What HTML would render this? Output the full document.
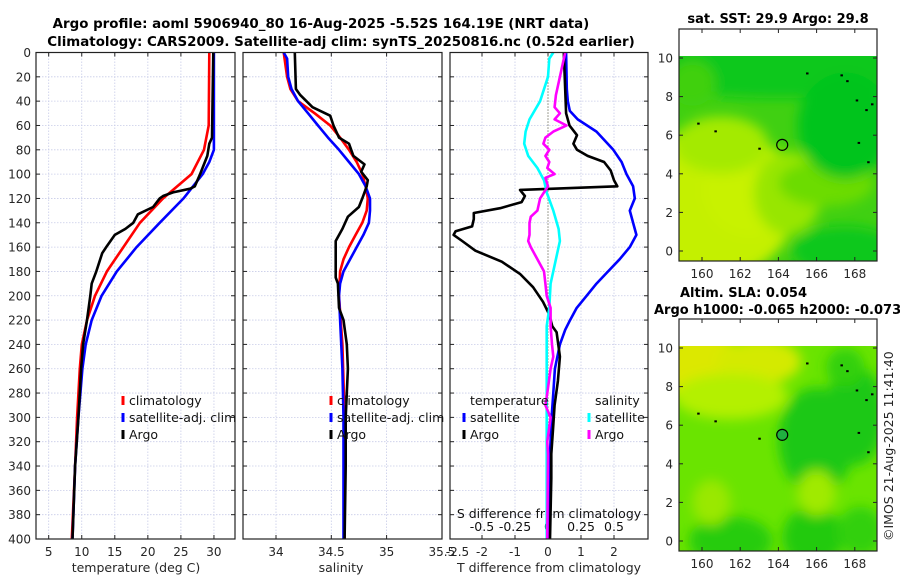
<!DOCTYPE html>
<html><head><meta charset="utf-8"><style>
body{margin:0;background:#fff;}
svg{display:block;font-family:"DejaVu Sans","Liberation Sans",sans-serif;}
</style></head><body>
<svg id="c" width="900" height="580" viewBox="0 0 900 580" xmlns="http://www.w3.org/2000/svg">
<defs>
<filter id="bl" x="-20%" y="-20%" width="140%" height="140%"><feGaussianBlur stdDeviation="6"/></filter>
<clipPath id="m1c"><rect x="679" y="56" width="198" height="205"/></clipPath>
<clipPath id="m2c"><rect x="679" y="346" width="198" height="205"/></clipPath>
</defs>
<g font-weight="bold" font-size="13.4" text-anchor="middle">
<text x="321" y="28">Argo profile: aoml 5906940_80 16-Aug-2025 -5.52S 164.19E (NRT data)</text>
<text x="341" y="46">Climatology: CARS2009. Satellite-adj clim: synTS_20250816.nc (0.52d earlier)</text>
</g>
<g id="plots"></g>
<g id="maps"></g>
</svg>
<script>
// ---- Data ----
var tDepth=[0,60,80,100,120,140,160,180,200,220,240,260,300,340,400];
var tClim=[29.3,29.2,28.5,26.6,22.3,18.8,16.3,13.8,12.0,10.8,10.0,9.7,9.3,9.0,8.5];
var tSatDepth=[0,80,90,100,120,140,160,180,200,220,240,260,300,340,400];
var tSat=[30.0,30.0,29.3,28.3,25.4,21.8,18.3,15.3,13.0,11.5,10.6,10.1,9.5,9.0,8.6];
var tArgoDepth=[0,70,75,85,100,110,112,115,118,120,127,133,140,145,150,160,165,180,190,200,220,240,260,280,300,340,400];
var tArgo=[29.9,29.7,29.3,29.0,27.9,27.1,26.4,23.8,22.3,21.8,20.8,18.5,17.8,16.6,15.0,13.7,13.1,12.2,11.5,11.3,10.8,10.2,9.9,9.7,9.5,9.0,8.6];
var sClimDepth=[0,20,30,40,50,60,70,80,90,100,110,120,130,140,150,160,170,180,200,240,300,400];
var sClim=[34.07,34.10,34.13,34.20,34.35,34.49,34.58,34.66,34.73,34.78,34.81,34.83,34.82,34.78,34.72,34.66,34.61,34.58,34.57,34.60,34.62,34.62];
var sSatDepth=[0,5,20,30,40,50,60,70,80,90,100,110,120,130,140,150,160,170,180,190,200,220,260,300,400];
var sSat=[34.07,34.10,34.11,34.14,34.20,34.29,34.38,34.47,34.57,34.66,34.75,34.81,34.85,34.85,34.84,34.79,34.73,34.67,34.61,34.58,34.57,34.58,34.60,34.61,34.61];
var sArgoDepth=[0,30,35,45,52,60,70,75,85,92,98,105,110,120,127,135,145,155,165,185,190,210,220,240,260,280,300,340,400];
var sArgo=[34.17,34.18,34.22,34.33,34.49,34.52,34.57,34.66,34.70,34.80,34.77,34.83,34.82,34.78,34.75,34.65,34.60,34.54,34.54,34.54,34.56,34.57,34.61,34.64,34.65,34.64,34.63,34.63,34.62];
var dArgoDepth=[0,50,60,68,75,80,85,90,97,105,110,113,118,123,128,132,137,143,147,150,155,163,172,182,193,205,215,225,230,250,270,290,310,330,350,400];
var dArgoT=[0.48,0.55,0.65,0.88,0.77,0.88,1.2,1.7,1.9,2.0,2.1,-0.85,-0.7,-0.8,-1.45,-2.25,-2.25,-2.3,-2.8,-2.86,-2.6,-2.2,-1.4,-0.85,-0.45,-0.15,0.03,0.13,0.26,0.36,0.3,0.2,0.15,0.1,0.1,0.06];
var dSatDepth=[0,30,40,48,55,65,80,90,100,110,120,130,150,160,170,180,190,200,210,220,228,240,260,280,300,330,400];
var dSatT=[0.55,0.57,0.6,0.66,0.9,1.47,1.98,2.23,2.38,2.58,2.63,2.48,2.68,2.48,2.17,1.82,1.47,1.17,0.87,0.67,0.52,0.36,0.21,0.16,0.11,0.06,0.01];
var dSatSDepth=[0,5,20,40,55,65,75,85,95,105,115,130,145,155,170,190,210,225,240,300,400];
var dSatS=[0.04,0.01,0.0,-0.06,-0.14,-0.17,-0.18,-0.15,-0.08,-0.03,-0.01,0.04,0.08,0.09,0.06,0.02,0.01,-0.01,-0.01,-0.01,-0.01];
var dArgoSDepth=[0,20,35,45,50,55,60,65,70,75,80,85,90,95,100,103,110,115,120,130,135,140,150,155,160,170,180,190,200,210,225,240,250,260,280,290,300,320,330,400];
var dArgoS=[0.13,0.09,0.06,0.05,0.09,0.05,0.14,0.04,-0.02,-0.035,0.01,-0.02,0.01,-0.005,0.05,-0.02,0.0,-0.03,-0.06,-0.08,-0.13,-0.14,-0.14,-0.15,-0.13,-0.08,-0.03,-0.02,-0.01,0.02,0.02,0.03,0.04,0.02,-0.005,-0.02,0.02,-0.005,0.0,-0.005];
var depthTicks=[0,20,40,60,80,100,120,140,160,180,200,220,240,260,280,300,320,340,360,380,400];
var tTicks=[5,10,15,20,25,30];
var sTicks=[34,34.5,35,35.5];
var dTicks=[-2,-1,0,1,2];
var dTickLabels=["-2","-1","0","1","2"];
var sdTicks=[-0.5,-0.25,0,0.25,0.5];
var lonTicks=[160,162,164,166,168];
var latTicks=[0,2,4,6,8,10];
// ---- Axes ----
var NS="http://www.w3.org/2000/svg";
var Y0=52.5,Y1=539;
function yD(d){return Y0+d*(Y1-Y0)/400;}
function xT(t){return 48.7+(t-5)*6.61;}
function xS(s){return 276+(s-34)*110.6;}
function xDT(v){return 548+v*33;}
function xDS(v){return 548+v*132;}
var root=document.getElementById('plots');
function el(tag,attrs,parent){var e=document.createElementNS(NS,tag);for(var k in attrs)e.setAttribute(k,attrs[k]);(parent||root).appendChild(e);return e;}
function txt(s,attrs,parent){var e=el('text',attrs,parent);e.textContent=s;return e;}
var panels=[{x:36,w:199,n:'temperature'},{x:243,w:199,n:'salinity'},{x:450,w:198,n:'difference'}];
panels.forEach(function(p,i){
 var g=el('g',{});
 
 
 depthTicks.forEach(function(d){
  var l=el('line',{x1:p.x,x2:p.x+p.w,y1:yD(d),y2:yD(d),stroke:'#c8cce8','stroke-width':0.8,'stroke-dasharray':'1.5,1.5'},g);
  
  el('line',{x1:p.x,x2:p.x+4,y1:yD(d),y2:yD(d),stroke:'#222'},g);
  el('line',{x1:p.x+p.w-4,x2:p.x+p.w,y1:yD(d),y2:yD(d),stroke:'#222'},g);
 });
 var xs=i==0?tTicks.map(xT):i==1?sTicks.map(xS):dTicks.map(xDT);
 xs.forEach(function(x){
  if(x>p.x+1&&x<p.x+p.w-1){
  var l=el('line',{x1:x,x2:x,y1:Y0,y2:Y1,stroke:'#c8cce8','stroke-width':0.8,'stroke-dasharray':'1.5,1.5'},g);
  
  el('line',{x1:x,x2:x,y1:Y0,y2:Y0+4,stroke:'#222'},g);
  el('line',{x1:x,x2:x,y1:Y1-4,y2:Y1,stroke:'#222'},g);}
 });
});
var dl=el('g',{'font-size':12,'text-anchor':'end',fill:'#262626'});

depthTicks.forEach(function(d){txt(String(d),{x:31,y:yD(d)+4.5},dl);});
var xl=el('g',{'font-size':12,'text-anchor':'middle',fill:'#262626'});

tTicks.forEach(function(t){txt(String(t),{x:xT(t),y:556},xl);});
sTicks.forEach(function(s){txt(String(s),{x:xS(s),y:556},xl);});
dTicks.forEach(function(v,i){txt(dTickLabels[i],{x:xDT(v),y:556},xl);});
txt('-2.5',{x:xDT(-2.5)-8,y:556,'text-anchor':'middle'},xl);
var sdl=el('g',{'font-size':12.5,'text-anchor':'middle',fill:'#111'});

sdTicks.forEach(function(v){txt(String(v),{x:xDS(v),y:531},sdl);});
txt('S difference from climatology',{x:549,y:518,'font-size':12.5},sdl);
var t1=txt('temperature (deg C)',{x:136,y:572,'font-size':12.5,'text-anchor':'middle',fill:'#262626'});

var t2=txt('salinity',{x:341,y:572,'font-size':12.5,'text-anchor':'middle',fill:'#262626'});

var t3=txt('T difference from climatology',{x:549,y:572,'font-size':12.5,'text-anchor':'middle',fill:'#262626'});

var z=el('line',{x1:xDT(0),x2:xDT(0),y1:Y0,y2:Y1,stroke:'#555533','stroke-width':1,'stroke-dasharray':'1,2'});

function series(depths,vals,fx,color,name,w){
 var pts=depths.map(function(d,i){return fx(vals[i]).toFixed(1)+','+yD(d).toFixed(1);}).join(' ');
 var p=el('polyline',{points:pts,fill:'none',stroke:color,'stroke-width':w||2.6,'stroke-linejoin':'round'});
 
 
}
series(tDepth,tClim,xT,'#ff0000','temperature-climatology-line');
series(tSatDepth,tSat,xT,'#0000ff','temperature-satellite-line');
series(tArgoDepth,tArgo,xT,'#000000','temperature-argo-line');
series(sClimDepth,sClim,xS,'#ff0000','salinity-climatology-line');
series(sSatDepth,sSat,xS,'#0000ff','salinity-satellite-line');
series(sArgoDepth,sArgo,xS,'#000000','salinity-argo-line');
series(dSatDepth,dSatT,xDT,'#0000ff','t-diff-satellite-line');
series(dArgoDepth,dArgoT,xDT,'#000000','t-diff-argo-line');
series(dSatSDepth,dSatS,xDS,'#00ffff','s-diff-satellite-line');
series(dArgoSDepth,dArgoS,xDS,'#ff00ff','s-diff-argo-line');
panels.forEach(function(p){var r=el('rect',{x:p.x,y:Y0,width:p.w,height:Y1-Y0,fill:'none',stroke:'#222','stroke-width':1.2});
 });
function legend(x,y,items,name){
 var g=el('g',{'font-size':12.5,fill:'#111'});
 
 items.forEach(function(it,i){
  var yy=y+i*17;
  if(it[1]){var m=el('line',{x1:x,x2:x,y1:yy-9,y2:yy,stroke:it[1],'stroke-width':3},g);
  }
  var t=txt(it[0],{x:x+6,y:yy},g);
  
 });
}
legend(123,405,[['climatology','#ff0000'],['satellite-adj. clim','#0000ff'],['Argo','#000000']],'temperature-legend');
legend(331,405,[['climatology','#ff0000'],['satellite-adj. clim','#0000ff'],['Argo','#000000']],'salinity-legend');
legend(464,405,[['temperature',null],['satellite','#0000ff'],['Argo','#000000']],'t-difference-legend');
legend(589,405,[['salinity',null],['satellite','#00ffff'],['Argo','#ff00ff']],'s-difference-legend');
// ---- Maps ----
var mg=document.getElementById('maps');
function lonX(l){return 702+(l-160)*19.1;}
function map(top,latTop,base,blobs,name,fill){
 var latY=function(v){return latTop+(10-v)*19.3;};
 var g=el('g',{},mg);
 
 el('rect',{x:679,y:top,width:198,height:232,fill:'#fff'},g);
 var cg=el('g',{'clip-path':'url(#'+(top<100?'m1c':'m2c')+')'},g);
 el('rect',{x:679,y:top+27,width:198,height:205,fill:base},cg);
 var bg=el('g',{filter:'url(#bl)'},cg);
 blobs.forEach(function(b){el('ellipse',{cx:lonX(b[0]),cy:latY(b[1]),rx:b[2]*19,ry:b[3]*19,fill:b[4]},bg);});
 [[163,5.3],[165.5,9.2],[167.3,9.1],[167.6,8.8],[168.1,7.8],[168.6,7.3],[168.9,7.6],[168.2,5.6],[168.7,4.6],[159.8,6.6],[160.7,6.2],[169.3,10]].forEach(function(c){
  el('rect',{x:lonX(c[0])-1,y:latY(c[1])-1,width:2.5,height:2,fill:'#000'},cg);});
 var ci=el('circle',{cx:lonX(164.2),cy:latY(5.5),r:5.5,fill:fill,stroke:'#000','stroke-width':1.2},g);
 
 el('rect',{x:679,y:top,width:198,height:232,fill:'none',stroke:'#222','stroke-width':1.2},g);
 var lab=el('g',{'font-size':12,fill:'#262626'},g);
 latTicks.forEach(function(v){
  el('line',{x1:679,x2:683,y1:latY(v),y2:latY(v),stroke:'#222'},g);
  el('line',{x1:873,x2:877,y1:latY(v),y2:latY(v),stroke:'#222'},g);
  txt(String(v),{x:673,y:latY(v)+4.5,'text-anchor':'end'},lab);});
 lonTicks.forEach(function(v){
  el('line',{x1:lonX(v),x2:lonX(v),y1:top,y2:top+4,stroke:'#222'},g);
  el('line',{x1:lonX(v),x2:lonX(v),y1:top+228,y2:top+232,stroke:'#222'},g);
  txt(String(v),{x:lonX(v),y:top+249,'text-anchor':'middle'},lab);});
}
map(29,58,'#40d012',[[160.5,2.5,4.5,4,'#c4f000'],[162.5,3.2,2.5,2.5,'#c8f200'],[161,5.5,2.5,1.5,'#a4ea00'],[164.5,3,1.8,2.2,'#98e600'],[166.5,3.5,2.5,1.2,'#6cdc06'],[164,9.5,8,1.6,'#10c81c'],[167.5,6.5,2.5,2.8,'#04c41e'],[167.5,0,2.8,1.3,'#0cc81c'],[159.5,8.7,1.2,1.2,'#40d010']],'sst-map','none');
map(319,348,'#6ae400',[[160,9,2.5,1.8,'#dce800'],[163,9.3,2.2,1.2,'#d4ea00'],[161.5,7.5,3,1.2,'#b4f000'],[166,5.2,2,2.8,'#1cc812'],[168,6.5,1.6,2.6,'#1cc812'],[167.5,9,1,1,'#30d010'],[161.5,0,2.2,1.3,'#28cc10'],[165.8,0.2,1.6,1.6,'#22ca10'],[168.3,0.5,1.2,1.3,'#30d010'],[160.5,2,1,1.2,'#9ae800'],[166,2.5,1,1.2,'#a0ea00']],'sla-map','#20b040');
var mt=el('g',{'font-size':13,'font-weight':'bold',fill:'#000'},mg);

txt('sat. SST: 29.9 Argo: 29.8',{x:778,y:23,'text-anchor':'middle'},mt);
txt('Altim. SLA: 0.054',{x:680,y:297},mt);
txt('Argo h1000: -0.065 h2000: -0.073',{x:654,y:314},mt);
var cr=txt('©IMOS 21-Aug-2025 11:41:40',{x:0,y:0,'font-size':12.5,fill:'#262626',transform:'translate(893,541) rotate(-90)'},mg);

</script>
</body></html>
